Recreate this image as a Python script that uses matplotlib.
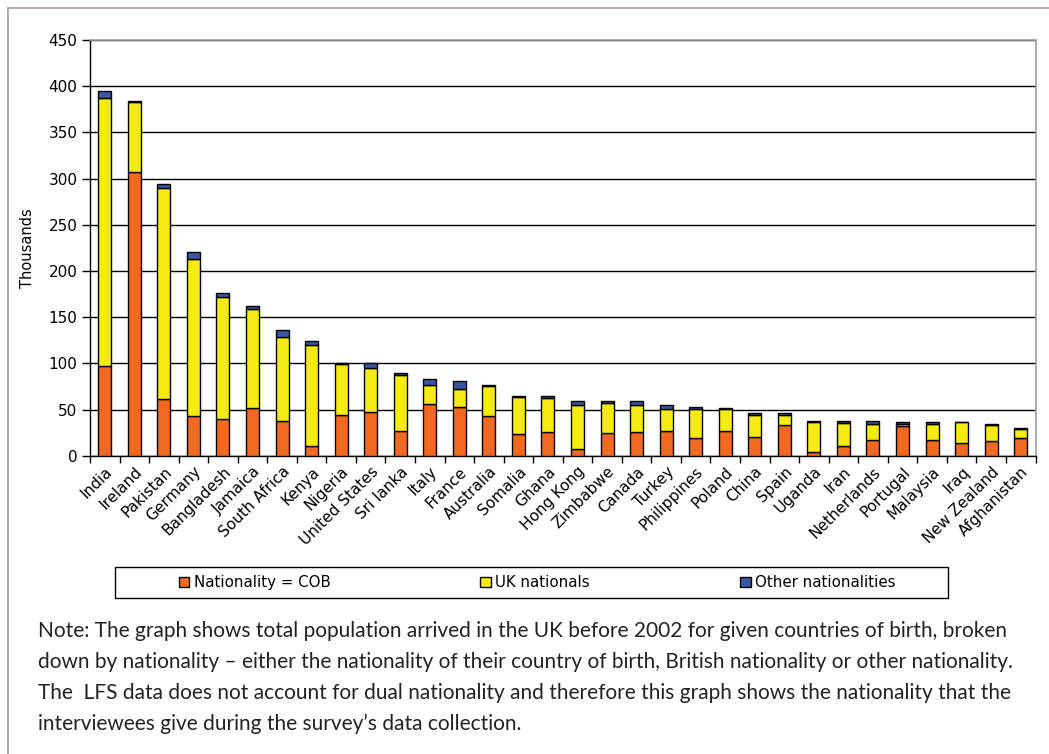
import matplotlib.pyplot as plt
import numpy as np
from matplotlib.patches import Patch, Rectangle
from matplotlib.lines import Line2D

# Thousands, LFS arrivals before 2002 by country of birth
countries = ["India", "Ireland", "Pakistan", "Germany", "Bangladesh", "Jamaica",
             "South Africa", "Kenya", "Nigeria", "United States", "Sri lanka",
             "Italy", "France", "Australia", "Somalia", "Ghana", "Hong Kong",
             "Zimbabwe", "Canada", "Turkey", "Philippines", "Poland", "China",
             "Spain", "Uganda", "Iran", "Netherlands", "Portugal", "Malaysia",
             "Iraq", "New Zealand", "Afghanistan"]
cob = [97, 307, 61, 43, 40, 52, 38, 10, 44, 47, 27,
       56, 53, 43, 23, 26, 7, 25, 26, 27, 19, 27, 20,
       33, 4, 10, 17, 32, 17, 14, 16, 19]
uk = [290, 76, 229, 170, 132, 107, 90, 110, 55, 48, 60,
      21, 19, 32, 41, 37, 48, 32, 29, 24, 32, 24, 24,
      11, 32, 25, 17, 2, 17, 22, 17, 10]
other = [8, 1, 4, 8, 4, 3, 8, 4, 1, 5, 2,
         6, 9, 2, 1, 2, 4, 2, 4, 4, 2, 1, 2,
         2, 2, 3, 4, 3, 3, 0, 1, 1]

c_cob = "#F26A22"
c_uk = "#F5EA14"
c_other = "#3B55A6"

fig = plt.figure(figsize=(10.49, 7.54), dpi=100)
ax = fig.add_axes([90/1049, 1-455.7/754, (1035.5-90)/1049, (455.7-40)/754])

x = np.arange(len(countries))
cob = np.array(cob)
uk = np.array(uk)
other = np.array(other)
w = 0.44
ax.bar(x, cob, w, color=c_cob, edgecolor="black", linewidth=1, zorder=3)
ax.bar(x, uk, w, bottom=cob, color=c_uk, edgecolor="black", linewidth=1, zorder=3)
ax.bar(x, other, w, bottom=cob + uk, color=c_other, edgecolor="black", linewidth=1, zorder=3)

ax.set_xlim(-0.5, len(countries) - 0.5)
ax.set_ylim(0, 450)
ax.set_yticks(np.arange(0, 451, 50))
ax.yaxis.grid(True, color="black", linewidth=1, zorder=0)
ax.set_axisbelow(True)

ax.set_xticks(x)
ax.set_xticklabels(countries, rotation=45, ha="right", rotation_mode="anchor", fontsize=11)
ax.tick_params(axis="x", which="major", length=0, pad=6)
ax.set_xticks(np.arange(-0.5, len(countries), 1), minor=True)
ax.tick_params(axis="x", which="minor", length=5, width=1, color="black")
ax.tick_params(axis="y", length=6, width=1, labelsize=11, pad=3)

for s in ["top", "right"]:
    ax.spines[s].set_color("#a0a0a0")
    ax.spines[s].set_linewidth(1.2)
for s in ["left", "bottom"]:
    ax.spines[s].set_color("black")
    ax.spines[s].set_linewidth(1)

ax.set_ylabel("Thousands", fontsize=10.5, labelpad=10)

# legend box
fig.add_artist(Rectangle((115/1049, 1-598/754), 833/1049, 31/754,
                         transform=fig.transFigure, facecolor="white",
                         edgecolor="black", linewidth=1))
handles = [Patch(facecolor=c_cob, edgecolor="black"),
           Patch(facecolor=c_uk, edgecolor="black"),
           Patch(facecolor=c_other, edgecolor="black")]
labels = ["Nationality = COB", "UK nationals", "Other nationalities"]
fig.legend(handles, labels, ncol=3, loc="center",
           bbox_to_anchor=(537/1049, 1-582.5/754), frameon=False,
           handlelength=0.7, handleheight=0.7, handletextpad=0.3,
           columnspacing=10.0, fontsize=10.8)

note = ("Note: The graph shows total population arrived in the UK before 2002 for given countries of birth, broken\n"
        "down by nationality \u2013 either the nationality of their country of birth, British nationality or other nationality.\n"
        "The  LFS data does not account for dual nationality and therefore this graph shows the nationality that the\n"
        "interviewees give during the survey\u2019s data collection.")
fig.text(38/1049, 1-621/754, note, ha="left", va="top", fontsize=15,
         family="Lato", color="#222222", linespacing=1.68)

# outer frame (top and left edges)
fig.add_artist(Line2D([8/1049, 8/1049], [0, 1-8/754], color="#b8aca6", linewidth=1.5))
fig.add_artist(Line2D([8/1049, 1], [1-8/754, 1-8/754], color="#b8aca6", linewidth=1.5))

fig.savefig("out.png", dpi=100)
